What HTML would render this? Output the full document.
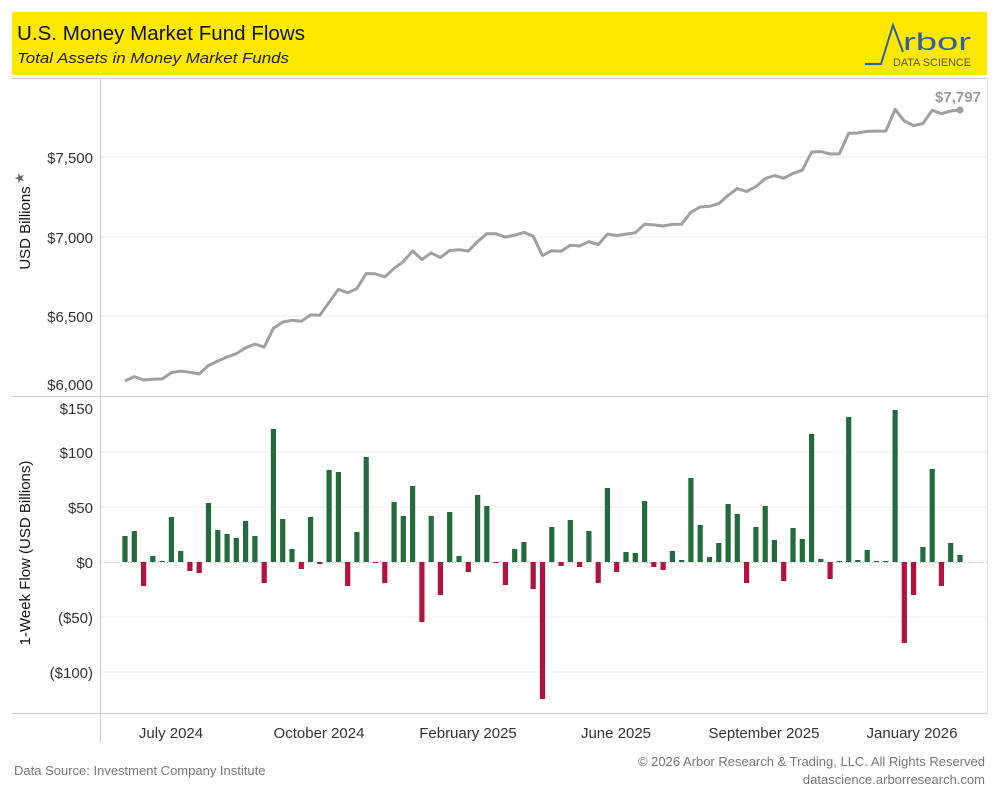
<!DOCTYPE html>
<html><head><meta charset="utf-8"><style>
body{margin:0;background:#fff;font-family:"Liberation Sans",sans-serif;}
#c{position:relative;width:1000px;height:800px;overflow:hidden;}
</style></head><body><div id="c">
<svg id="s" width="1000" height="800" xmlns="http://www.w3.org/2000/svg" font-family="Liberation Sans, sans-serif">
<rect x="12" y="12" width="975" height="63" fill="#ffe800"/>
<text x="17" y="40" font-size="20" fill="#111" textLength="288" lengthAdjust="spacingAndGlyphs">U.S. Money Market Fund Flows</text>
<text x="17" y="63" font-size="15" font-style="italic" fill="#222" textLength="272" lengthAdjust="spacingAndGlyphs">Total Assets in Money Market Funds</text>
<polyline points="865,64 881,64 893,25 903,52" fill="none" stroke="#2f5fa8" stroke-width="2"/>
<text x="903" y="50" font-size="24" fill="#2f5fa8" textLength="68" lengthAdjust="spacingAndGlyphs">rbor</text>
<text x="893" y="66" font-size="11" fill="#555" textLength="78" lengthAdjust="spacingAndGlyphs">DATA SCIENCE</text>
<line x1="12" y1="78.5" x2="988" y2="78.5" stroke="#ccc"/>
<line x1="100.5" y1="79" x2="100.5" y2="742" stroke="#ccc"/>
<line x1="12" y1="396.5" x2="988" y2="396.5" stroke="#ccc"/>
<line x1="12" y1="713.5" x2="988" y2="713.5" stroke="#ccc"/>
<line x1="987.5" y1="79" x2="987.5" y2="713" stroke="#ddd"/>
<g stroke="#eee">
<line x1="101" y1="157" x2="987" y2="157"/><line x1="101" y1="237" x2="987" y2="237"/><line x1="101" y1="316" x2="987" y2="316"/>
<line x1="101" y1="452" x2="987" y2="452"/><line x1="101" y1="507" x2="987" y2="507"/><line x1="101" y1="617" x2="987" y2="617"/><line x1="101" y1="672" x2="987" y2="672"/>
</g>
<line x1="101" y1="562.5" x2="987" y2="562.5" stroke="#bbb" stroke-dasharray="1,2"/>
<g font-size="15" fill="#333" text-anchor="end">
<text x="93" y="163">$7,500</text><text x="93" y="243">$7,000</text><text x="93" y="322">$6,500</text><text x="93" y="390">$6,000</text>
<text x="93" y="414">$150</text><text x="93" y="458">$100</text><text x="93" y="513">$50</text><text x="93" y="568">$0</text><text x="93" y="623">($50)</text><text x="93" y="678">($100)</text>
</g>
<text transform="translate(30,228) rotate(-90)" font-size="15" fill="#111" text-anchor="middle">USD Billions</text>
<text transform="translate(24,178) rotate(-90)" font-size="13" fill="#667" text-anchor="middle">★</text>
<text transform="translate(30,553) rotate(-90)" font-size="15" fill="#111" text-anchor="middle">1-Week Flow (USD Billions)</text>
<g font-size="15" fill="#333" text-anchor="middle">
<text x="171" y="738">July 2024</text><text x="319" y="738">October 2024</text><text x="468" y="738">February 2025</text><text x="616" y="738">June 2025</text><text x="764" y="738">September 2025</text><text x="912" y="738">January 2026</text>
</g>
<text x="14" y="775" font-size="13" fill="#777">Data Source: Investment Company Institute</text>
<text x="985" y="766" font-size="13" fill="#777" text-anchor="end">© 2026 Arbor Research &amp; Trading, LLC. All Rights Reserved</text>
<text x="985" y="784" font-size="13" fill="#777" text-anchor="end">datascience.arborresearch.com</text>
<text x="958" y="102" font-size="15" font-weight="bold" fill="#999" text-anchor="middle">$7,797</text>
<g id="bars"></g>
<polyline id="ln" fill="none" stroke="#a0a0a0" stroke-width="3" stroke-linejoin="round"/>
<circle cx="960" cy="110" r="3.5" fill="#a0a0a0"/>
</svg>
<script>
var h=[26,31,-24,6,1,45,11,-9,-11,59,32,28,24,41,26,-21,133,43,13,-7,45,-2,92,90,-24,30,105,-1,-21,60,46,76,-60,46,-33,50,6,-10,67,56,-1,-23,13,20,-27,-137,35,-4,42,-5,31,-21,74,-10,10,9,61,-5,-8,11,2,84,37,5,19,58,48,-21,35,56,22,-19,34,23,128,3,-17,1,145,2,12,1,1,152,-81,-33,15,93,-24,19,7];
var n=h.length,b='',x0=125,dx=(960-125)/(n-1),cum=[0],c=0;
for(var i=0;i<n;i++){var x=x0+i*dx,v=h[i];
b+='<rect x="'+(x-2.6).toFixed(1)+'" y="'+(v>0?562-v:562)+'" width="5.2" height="'+Math.max(Math.abs(v),1)+'" fill="'+(v>=0?'#236b3c':'#b3123f')+'"/>';
if(i>0){c+=v;cum.push(c);}}
document.getElementById('bars').innerHTML=b;
var y0=381,y1=110,tot=cum[n-1],p=[];
for(var i=0;i<n;i++){p.push((x0+i*dx).toFixed(1)+','+(y0+(y1-y0)*cum[i]/tot).toFixed(1));}
document.getElementById('ln').setAttribute('points',p.join(' '));
</script>
</div></body></html>
